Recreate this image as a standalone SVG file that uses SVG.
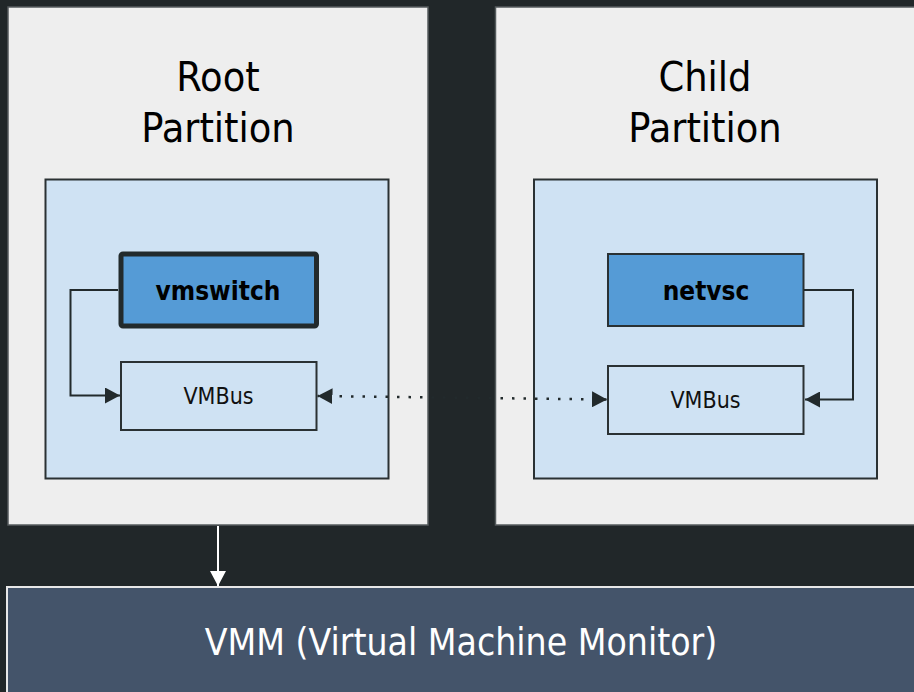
<svg xmlns="http://www.w3.org/2000/svg" width="914" height="692" viewBox="0 0 914 692">
<style>
text{font-family:"DejaVu Sans Condensed","DejaVu Sans",sans-serif;font-stretch:condensed;text-anchor:middle}
.part{fill:#eeeeee;stroke:#555b5d;stroke-width:1.5}
.inner{fill:#cfe2f3;stroke:#2a3133;stroke-width:2}
.drv{fill:#559bd6;stroke:#2a3133;stroke-width:2}
.bus{fill:#cfe2f3;stroke:#2a3133;stroke-width:2}
.title{font-size:41px;fill:#000}
.drvt{font-size:26px;font-weight:bold;fill:#000}
.bust{font-size:23px;fill:#111}
.conn{fill:none;stroke:#222a2c;stroke-width:2}
</style>
<defs>
<marker id="ah" viewBox="0 0 15 16" refX="15" refY="8" markerWidth="15" markerHeight="16" markerUnits="userSpaceOnUse" orient="auto-start-reverse">
<path d="M0,0 L15,8 L0,16 Z" fill="#222a2c"/>
</marker>
<marker id="ahw" viewBox="0 0 16 15" refX="8" refY="15" markerWidth="16" markerHeight="15" markerUnits="userSpaceOnUse" orient="0">
<path d="M0,0 L16,0 L8,15 Z" fill="#ffffff"/>
</marker>
</defs>
<rect width="914" height="692" fill="#212729"/>
<g id="root-partition">
<rect class="part" x="8" y="7" width="420" height="518"/>
<text class="title" x="218" y="91">Root</text>
<text class="title" x="218" y="142">Partition</text>
<rect class="inner" x="45.5" y="179.5" width="343" height="299"/>
</g>
<g id="child-partition">
<rect class="part" x="495.5" y="7" width="430" height="518"/>
<text class="title" x="705" y="91">Child</text>
<text class="title" x="705" y="142">Partition</text>
<rect class="inner" x="534" y="179.5" width="343" height="299"/>
</g>
<g id="vmm">
<rect x="7" y="587" width="920" height="110" fill="#44546a" stroke="#e8e8e8" stroke-width="2"/>
<text x="461" y="655" style="font-size:37px;fill:#ffffff">VMM (Virtual Machine Monitor)</text>
</g>
<g id="vmswitch">
<rect class="drv" x="121" y="254" width="195.5" height="72" rx="2" style="stroke-width:5;stroke:#222a2c"/>
<text class="drvt" x="218" y="300">vmswitch</text>
</g>
<g id="vmbus-root">
<rect class="bus" x="121" y="362" width="195.5" height="68"/>
<text class="bust" x="218.5" y="404">VMBus</text>
</g>
<g id="netvsc">
<rect class="drv" x="608" y="254" width="195.5" height="72"/>
<text class="drvt" x="706" y="300">netvsc</text>
</g>
<g id="vmbus-child">
<rect class="bus" x="608" y="366" width="195.5" height="68"/>
<text class="bust" x="705.5" y="408">VMBus</text>
</g>
<g id="connectors">
<path class="conn" d="M118,290 H70.5 V395.5 H120" marker-end="url(#ah)"/>
<path class="conn" d="M804,290 H853 V399.5 H805" marker-end="url(#ah)"/>
<path class="conn" d="M317.5,396 L607,399.5" stroke-dasharray="2.5,9" marker-start="url(#ah)" marker-end="url(#ah)" style="stroke-width:2.5;stroke-dashoffset:-22"/>
<path d="M218,526 V586" fill="none" stroke="#ffffff" stroke-width="2" marker-end="url(#ahw)"/>
</g>
</svg>
